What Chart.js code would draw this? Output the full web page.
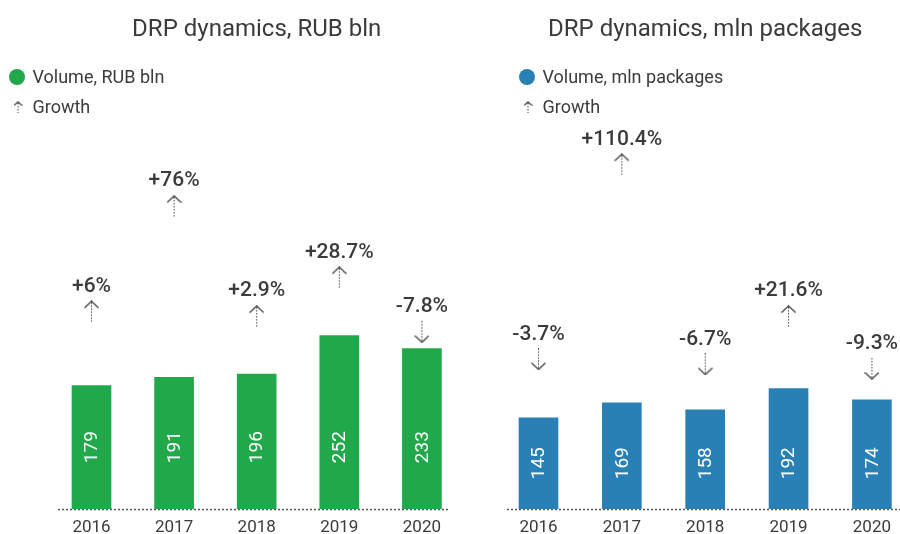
<!DOCTYPE html>
<html>
<head>
<meta charset="utf-8">
<script src="https://cdn.jsdelivr.net/npm/chart.js@4.4.1/dist/chart.umd.min.js"></script>
<style>
  html, body { margin: 0; padding: 0; background: #ffffff; }
  #wrap { display: flex; width: 900px; height: 534px; }
  .box { width: 450px; height: 534px; position: relative; }
  canvas { display: block; }
</style>
</head>
<body>
<div id="wrap">
  <div class="box"><canvas id="c1" width="450" height="534"></canvas></div>
  <div class="box"><canvas id="c2" width="450" height="534"></canvas></div>
</div>
<script>
// ---- data ----
const years = ['2016', '2017', '2018', '2019', '2020'];
const rubVolume = [179, 191, 196, 252, 233];
const rubGrowth = [6, 76, 2.9, 28.7, -7.8];
const pkgVolume = [145, 169, 158, 192, 174];
const pkgGrowth = [-3.7, 110.4, -6.7, 21.6, -9.3];

const titleRub = 'DRP dynamics, RUB bln';
const titlePkg = 'DRP dynamics, mln packages';
const legendRub = 'Volume, RUB bln';
const legendPkg = 'Volume, mln packages';
const legendGrowth = 'Growth';

// ---- styles ----
const FONT = 'Roboto';
const TEXT = '#3b3b3b';
const GREEN = '#21a84b';
const BLUE = '#2880b5';

function makeArrow(up, w, h, head, lw) {
  const c = document.createElement('canvas');
  c.width = w; c.height = h;
  const g = c.getContext('2d');
  g.strokeStyle = '#444';
  g.lineWidth = lw;
  const cx = Math.floor(w / 2) + 0.5;
  g.beginPath();
  if (up) { g.moveTo(0.5, head + 0.5); g.lineTo(cx, 0.8); g.lineTo(w - 0.5, head + 0.5); }
  else { g.moveTo(0.5, h - head - 0.5); g.lineTo(cx, h - 0.8); g.lineTo(w - 0.5, h - head - 0.5); }
  g.stroke();
  g.setLineDash([1.5, 1.5]);
  g.lineWidth = 1;
  g.beginPath();
  if (up) { g.moveTo(cx, 2); g.lineTo(cx, h); } else { g.moveTo(cx, 0); g.lineTo(cx, h - 2); }
  g.stroke();
  return c;
}
const upArrow = makeArrow(true, 15, 22, 7, 1.3);
const downArrow = makeArrow(false, 15, 22, 7, 1.3);
const smallUp = makeArrow(true, 9, 12, 4, 1.1);

function fmtGrowth(v) { return (v >= 0 ? '+' : '') + v + '%'; }

const customLegend = {
  id: 'customLegend',
  afterDraw(chart, args, o) {
    const ctx = chart.ctx;
    ctx.save();
    ctx.fillStyle = o.color;
    ctx.beginPath();
    ctx.arc(o.x, o.y1, 8, 0, Math.PI * 2);
    ctx.fill();
    ctx.drawImage(smallUp, o.x - smallUp.width / 2 + 1, o.y2 - smallUp.height / 2);
    ctx.fillStyle = TEXT;
    ctx.font = '18px ' + FONT;
    ctx.textBaseline = 'middle';
    ctx.textAlign = 'left';
    ctx.fillText(o.label, o.x + o.gap, o.y1 + 1.5);
    ctx.fillText(legendGrowth, o.x + o.gap, o.y2 + 1.5);
    ctx.restore();
  }
};

const annotations = {
  id: 'annotations',
  afterDatasetsDraw(chart, args, o) {
    const ctx = chart.ctx;
    const barMeta = chart.getDatasetMeta(0);
    const lineMeta = chart.getDatasetMeta(1);
    const yScale = chart.scales.y;
    const values = chart.data.datasets[0].data;
    const base = yScale.getPixelForValue(0);
    const midY = (base + yScale.getPixelForValue(Math.min(...values))) / 2;
    ctx.save();
    // bar value labels
    ctx.fillStyle = '#ffffff';
    ctx.font = '19px ' + FONT;
    ctx.textAlign = 'center';
    ctx.textBaseline = 'middle';
    barMeta.data.forEach((el, i) => {
      ctx.save();
      ctx.translate(el.x, midY);
      ctx.rotate(-Math.PI / 2);
      ctx.fillText(String(values[i]), 0, 1);
      ctx.restore();
    });
    // growth labels
    const gvals = chart.data.datasets[1].data;
    ctx.fillStyle = TEXT;
    ctx.font = '500 21px ' + FONT;
    lineMeta.data.forEach((el, i) => {
      ctx.fillText(fmtGrowth(gvals[i]), el.x, el.y - 25);
    });
    ctx.restore();
  }
};

const baseline = {
  id: 'baseline',
  beforeDatasetsDraw(chart, args, o) {
    const ctx = chart.ctx;
    const y = Math.round(chart.scales.y.getPixelForValue(0)) + 0.5;
    ctx.save();
    ctx.strokeStyle = '#555';
    ctx.lineWidth = 1.5;
    ctx.setLineDash([2, 2]);
    ctx.beginPath();
    ctx.moveTo(o.x0, y);
    ctx.lineTo(o.x1, y);
    ctx.stroke();
    ctx.restore();
  }
};

function build(id, title, volume, growth, color, cfg) {
  return new Chart(document.getElementById(id), {
    type: 'bar',
    data: {
      labels: years,
      datasets: [
        {
          type: 'bar', data: volume, backgroundColor: color, barThickness: 39,
          yAxisID: 'y', order: 2, clip: false
        },
        {
          type: 'line', data: growth, yAxisID: 'y2', showLine: false, clip: false,
          pointStyle: (c) => (c.raw >= 0 ? upArrow : downArrow),
          pointRadius: 10, order: 1
        }
      ]
    },
    options: {
      responsive: false,
      animation: false,
      devicePixelRatio: 1,
      layout: { padding: { left: cfg.padLeft, right: cfg.padRight, top: 0, bottom: -13 } },
      scales: {
        x: {
          offset: false,
          grid: { display: false, drawTicks: false, tickLength: 0 },
          border: { display: false },
          ticks: { color: TEXT, font: { family: FONT, size: 17 }, padding: 9, maxRotation: 0, autoSkip: false }
        },
        y: { display: false, min: 0, max: cfg.yMax },
        y2: { display: false, min: cfg.gMin, max: cfg.gMax }
      },
      plugins: {
        legend: { display: false },
        tooltip: { enabled: false },
        title: {
          display: true, text: title, fullSize: false, color: TEXT,
          font: { family: FONT, size: 24, weight: 'normal' },
          padding: { top: 16, bottom: 86 }
        },
        customLegend: { x: cfg.legX, y1: 77, y2: 107, gap: 15.5, color: color, label: cfg.legend },
        baseline: { x0: cfg.lineX0, x1: cfg.lineX1 }
      }
    },
    plugins: [customLegend, annotations, baseline]
  });
}

build('c1', titleRub, rubVolume, rubGrowth, GREEN,
  { padLeft: 91.5, padRight: 26.5, yMax: 550, gMin: -125, gMax: 126, legX: 17, legend: legendRub, lineX0: 58, lineX1: 448 });
build('c2', titlePkg, pkgVolume, pkgGrowth, BLUE,
  { padLeft: 88.5, padRight: 26.5, yMax: 604, gMin: -91, gMax: 130, legX: 77, legend: legendPkg, lineX0: 57, lineX1: 450 });
</script>
</body>
</html>
